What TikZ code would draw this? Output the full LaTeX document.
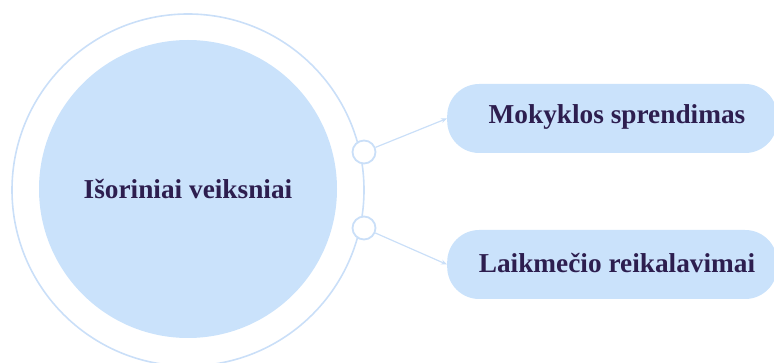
\documentclass[tikz,border=0pt]{standalone}
\usepackage{fontspec}
\setmainfont{Liberation Serif}
\usetikzlibrary{arrows.meta}
\definecolor{paleblue}{HTML}{CAE2FB}
\definecolor{ringblue}{HTML}{CADFF8}
\definecolor{inkpurple}{HTML}{2D1E4F}
\tikzset{
  ring/.style={circle, draw=ringblue, line width=1.6pt, inner sep=0pt},
  core/.style={circle, fill=paleblue, inner sep=0pt, text=inkpurple,
    font=\fontsize{27.3}{32}\selectfont\bfseries},
  joint/.style={circle, draw=ringblue, fill=white, line width=1.8pt,
    minimum size=23pt, inner sep=0pt},
  pill/.style={rectangle, rounded corners=32pt, fill=paleblue,
    minimum width=330pt, minimum height=69pt, inner sep=0pt},
  label/.style={text=inkpurple, font=\fontsize{27.3}{32}\selectfont\bfseries},
  link/.style={draw=ringblue, line width=1.2pt, -{Stealth[length=6pt,width=5pt]}}
}
\begin{document}
\begin{tikzpicture}[x=1pt, y=-1pt]
  \useasboundingbox (0,0) rectangle (774,363);
  % outer ring and filled core circle
  \node[ring, minimum size=352pt] (outer) at (188,190) {};
  \node[core, minimum size=298pt] (core) at (188,189) {Išoriniai veiksniai};
  % joints sitting on the ring
  \node[joint] (j1) at (364,152) {};
  \node[joint] (j2) at (364,228) {};
  % outcome boxes
  \node[pill, anchor=west] (b1) at (447,118.5) {};
  \node[label] (t1) at (617,117) {Mokyklos sprendimas};
  \node[pill, anchor=west] (b2) at (447,264.5) {};
  \node[label] (t2) at (617,263) {Laikmečio reikalavimai};
  % connectors
  \draw[link] (j1) -- (b1.west);
  \draw[link] (j2) -- (b2.west);
\end{tikzpicture}
\end{document}
